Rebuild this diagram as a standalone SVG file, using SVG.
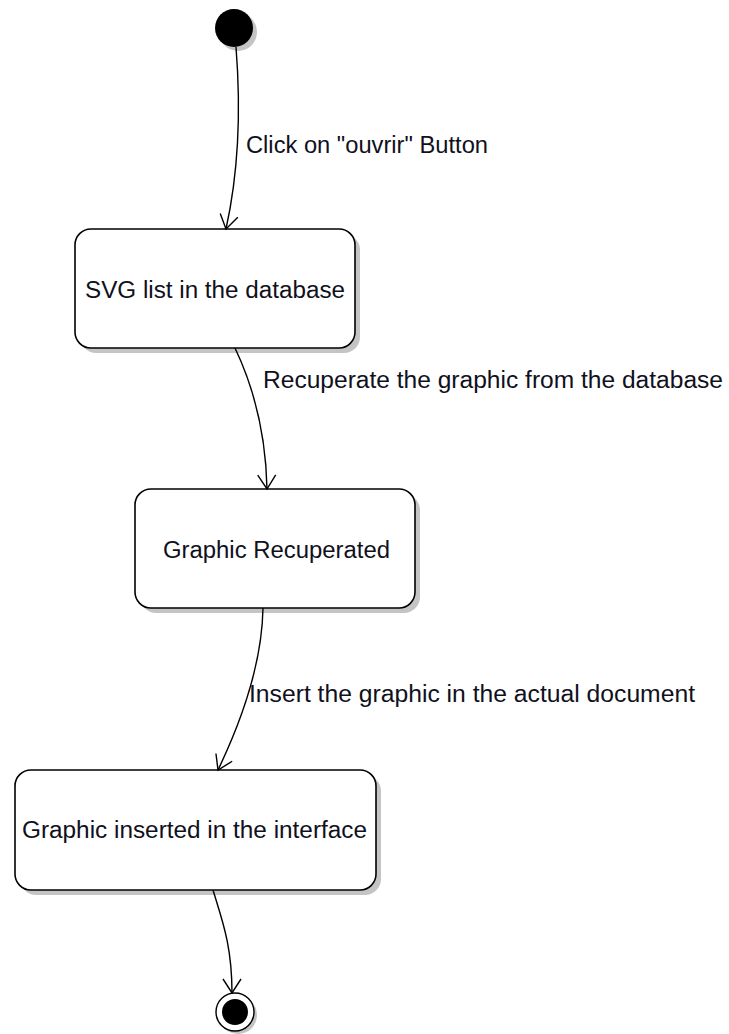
<svg xmlns="http://www.w3.org/2000/svg" width="729" height="1034" viewBox="0 0 729 1034">
<style>
.box{fill:#fff;stroke:#000;stroke-width:1.6}
.shadow{fill:#c4c4c4}
.lbl{font-family:"Liberation Sans",Arial,sans-serif;font-size:23px;fill:#101020}
.edge{fill:none;stroke:#000;stroke-width:1.4}
</style>
<defs>
<marker id="arr" markerUnits="userSpaceOnUse" markerWidth="40" markerHeight="40" viewBox="-20 -20 40 40" refX="0" refY="0" orient="auto">
<path d="M-14,-9 L0,0 L-14,9" fill="none" stroke="#000" stroke-width="1.4"/>
</marker>
</defs>
<rect width="729" height="1034" fill="#fff"/>
<g id="start">
<circle cx="238" cy="32" r="19" class="shadow"/>
<circle cx="234" cy="28" r="19" fill="#000"/>
</g>
<g id="state1">
<rect x="80" y="234" width="280" height="119" rx="16" class="shadow"/>
<rect x="75" y="229" width="280" height="119" rx="16" class="box"/>
<text x="215" y="298" text-anchor="middle" class="lbl" textLength="260" lengthAdjust="spacingAndGlyphs">SVG list in the database</text>
</g>
<g id="state2">
<rect x="140" y="494" width="280" height="119" rx="16" class="shadow"/>
<rect x="135" y="489" width="280" height="119" rx="16" class="box"/>
<text x="276.5" y="558" text-anchor="middle" class="lbl" textLength="227" lengthAdjust="spacingAndGlyphs">Graphic Recuperated</text>
</g>
<g id="state3">
<rect x="20" y="775" width="361" height="120" rx="16" class="shadow"/>
<rect x="15" y="770" width="361" height="120" rx="16" class="box"/>
<text x="194.5" y="838" text-anchor="middle" class="lbl" textLength="345" lengthAdjust="spacingAndGlyphs">Graphic inserted in the interface</text>
</g>
<g id="end">
<circle cx="238" cy="1015" r="19" class="shadow"/>
<circle cx="235" cy="1012" r="19" fill="#fff" stroke="#000" stroke-width="1.4"/>
<circle cx="235" cy="1012" r="13" fill="#000"/>
</g>
<g id="connectors">
<path class="edge" d="M236,47 C241,110 239,170 226,229" marker-end="url(#arr)"/>
<path class="edge" d="M235,348 C255,390 266,440 267,489" marker-end="url(#arr)"/>
<path class="edge" d="M263,608 C262,665 242,720 218,770" marker-end="url(#arr)"/>
<path class="edge" d="M213,890 C222,920 232,945 232,993" marker-end="url(#arr)"/>
<text x="246" y="153" class="lbl" textLength="242" lengthAdjust="spacingAndGlyphs">Click on "ouvrir" Button</text>
<text x="263" y="388" class="lbl" textLength="460" lengthAdjust="spacingAndGlyphs">Recuperate the graphic from the database</text>
<text x="249" y="702" class="lbl" textLength="446" lengthAdjust="spacingAndGlyphs">Insert the graphic in the actual document</text>
</g>
</svg>
